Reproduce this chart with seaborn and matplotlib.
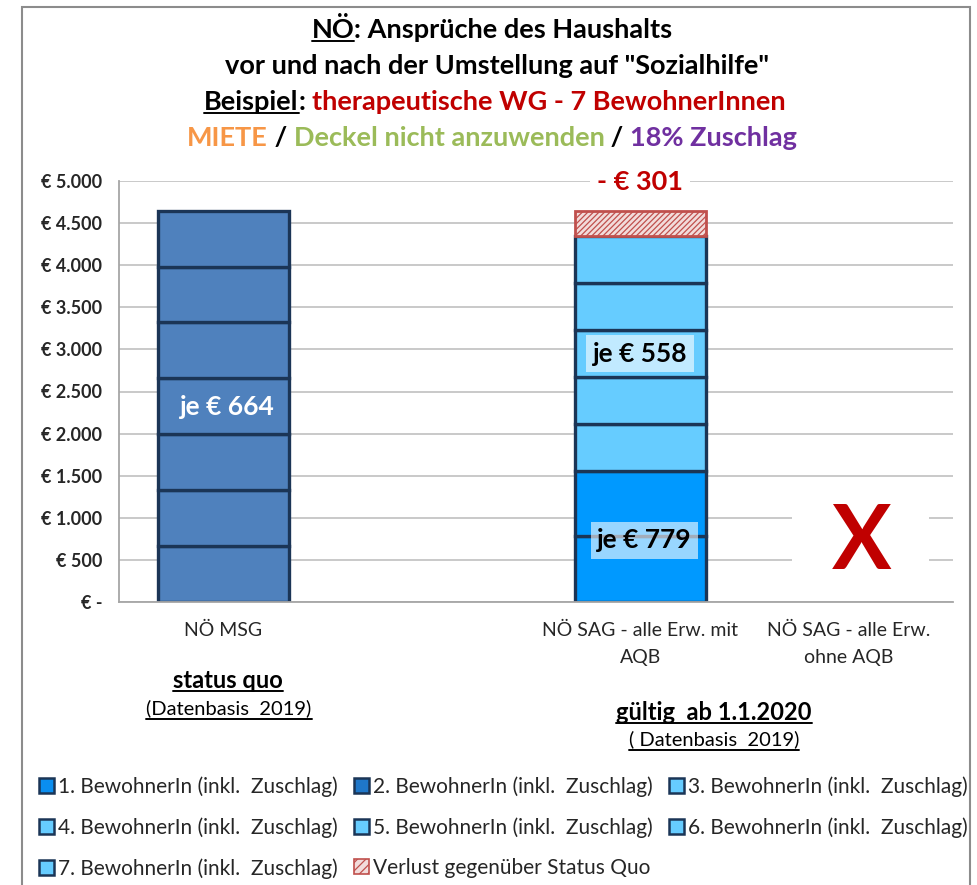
import matplotlib
matplotlib.use("Agg")
import matplotlib.pyplot as plt
import seaborn as sns
from matplotlib.patches import Patch, Rectangle
from matplotlib.lines import Line2D

# Kategorien (zweiter Platz bleibt leer)
categories = ["NÖ MSG", " ", "NÖ SAG - alle Erw. mit\nAQB", "NÖ SAG - alle Erw.\nohne AQB"]

series_labels = ["1. BewohnerIn (inkl.  Zuschlag)", "2. BewohnerIn (inkl.  Zuschlag)",
                 "3. BewohnerIn (inkl.  Zuschlag)", "4. BewohnerIn (inkl.  Zuschlag)",
                 "5. BewohnerIn (inkl.  Zuschlag)", "6. BewohnerIn (inkl.  Zuschlag)",
                 "7. BewohnerIn (inkl.  Zuschlag)"]
loss_label = "Verlust gegenüber Status Quo"

# Werte je BewohnerIn
msg_values = [664, 664, 664, 664, 664, 664, 664]
sag_values = [779, 779, 558, 558, 558, 558, 558]
loss_value = 301

y_ticks = [0, 500, 1000, 1500, 2000, 2500, 3000, 3500, 4000, 4500, 5000]
y_tick_labels = ["€ -", "€ 500", "€ 1.000", "€ 1.500", "€ 2.000", "€ 2.500",
                 "€ 3.000", "€ 3.500", "€ 4.000", "€ 4.500", "€ 5.000"]

# Farben
msg_color = "#4F81BD"
sag_colors = ["#0099FF", "#0099FF", "#66CCFF", "#66CCFF", "#66CCFF", "#66CCFF", "#66CCFF"]
legend_colors = ["#0A8EF0", "#1F77C9", "#66CCFF", "#66CCFF", "#66CCFF", "#66CCFF", "#66CCFF"]
edge_color = "#1B3556"
loss_face = "#F2DCDB"
loss_edge = "#C0504D"
red = "#C00000"

sns.set_style("white")
plt.rcParams["font.family"] = ["Lato", "DejaVu Sans"]
plt.rcParams["hatch.linewidth"] = 0.9

W, H = 978, 885
fig = plt.figure(figsize=(W / 100, H / 100), dpi=100)
ax = fig.add_axes([119 / W, 1 - 602 / H, (953 - 119) / W, (602 - 181) / H])
ax.set_axisbelow(True)

bar_kw = dict(order=categories, width=0.63, errorbar=None, saturation=1,
              edgecolor=edge_color, linewidth=2.4, ax=ax)

# linke Säule: NÖ MSG
bottom = 0
for v in msg_values:
    sns.barplot(x=[categories[0]], y=[v], bottom=bottom, color=msg_color, **bar_kw)
    bottom += v

# rechte Säule: NÖ SAG mit AQB
bottom = 0
for v, c in zip(sag_values, sag_colors):
    sns.barplot(x=[categories[2]], y=[v], bottom=bottom, color=c, **bar_kw)
    bottom += v
sns.barplot(x=[categories[2]], y=[loss_value], bottom=bottom, order=categories, width=0.63,
            errorbar=None, saturation=1, color=loss_face, edgecolor=loss_edge,
            linewidth=2.0, hatch="//////", ax=ax)

ax.set_xlim(-0.5, 3.5)
ax.set_ylim(0, 5000)
ax.set_yticks(y_ticks)
ax.set_yticklabels(y_tick_labels, fontweight="bold", fontsize=13)
ax.yaxis.grid(True, color="#C9C9C9", linewidth=1.4)
ax.xaxis.grid(False)
ax.set_xlabel("")
ax.set_ylabel("")
ax.set_xticks(range(len(categories)))
ax.set_xticklabels(categories, fontsize=14)
for lbl in ax.get_xticklabels():
    lbl.set_linespacing(1.75)
ax.set_xticks([-0.5, 0.5, 1.5, 2.5, 3.5], minor=True)
ax.tick_params(axis="x", which="major", length=0, pad=14)
ax.tick_params(axis="x", which="minor", length=6, color="#A6A6A6", width=1.2)
ax.tick_params(axis="y", length=5, color="#A6A6A6", width=1.2, pad=7)
for s in ["top", "right"]:
    ax.spines[s].set_visible(False)
for s in ["left", "bottom"]:
    ax.spines[s].set_color("#A6A6A6")
    ax.spines[s].set_linewidth(1.3)

# weiße Fläche hinter dem X (unterbricht die Gitterlinien)
ax.add_patch(Rectangle((2.73, 260), 0.655, 960, facecolor="white", edgecolor="none", zorder=1.5))

# Beschriftungen in den Säulen
ax.text(0.02, 2320, "je € 664", color="white", fontsize=19, fontweight="bold",
        ha="center", va="center", zorder=5)
ax.text(2, 2950, "je € 558", color="black", fontsize=19, fontweight="bold",
        ha="center", va="center", zorder=5,
        bbox=dict(boxstyle="square,pad=0.25", facecolor="white", alpha=0.6, edgecolor="none"))
ax.text(2.02, 735, "je € 779", color="black", fontsize=19, fontweight="bold",
        ha="center", va="center", zorder=5,
        bbox=dict(boxstyle="square,pad=0.25", facecolor="white", alpha=0.6, edgecolor="none"))
ax.text(2, 4985, "- € 301", color=red, fontsize=19.5, fontweight="bold",
        ha="center", va="center", zorder=5,
        bbox=dict(boxstyle="square,pad=0.25", facecolor="white", edgecolor="none"))
ax.text(3.06, 700, "X", color=red, fontsize=64, fontweight="bold", ha="center", va="center",
        zorder=5)

renderer = fig.canvas.get_renderer()


def text_width(s, size, weight):
    t = fig.text(0, 0, s, fontsize=size, fontweight=weight)
    w = t.get_window_extent(renderer).width
    t.remove()
    return w


def rich_line(pieces, x_center, y_base, size, weight="bold", ul_gap=3.0):
    # pieces: (text, color, underline)
    full = "".join(p[0] for p in pieces)
    x0 = x_center - text_width(full, size, weight) / 2
    ref = text_width("|", size, weight)
    prefix = ""
    for txt, col, ul in pieces:
        off = text_width(prefix + "|", size, weight) - ref if prefix else 0
        x = x0 + off
        fig.text(x / W, 1 - y_base / H, txt, color=col, fontsize=size,
                 fontweight=weight, ha="left", va="baseline")
        if ul:
            w = text_width(txt, size, weight)
            yl = 1 - (y_base + ul_gap) / H
            fig.add_artist(Line2D([x / W, (x + w) / W], [yl, yl], color=col,
                                  linewidth=1.4, transform=fig.transFigure))
        prefix += txt


# Titel
rich_line([("NÖ", "black", True), (": Ansprüche des Haushalts", "black", False)], 492, 38, 19.5)
rich_line([('vor und nach der Umstellung auf "Sozialhilfe"', "black", False)], 497, 74, 19.5)
rich_line([("Beispiel", "black", True), (": ", "black", False),
           ("therapeutische WG - 7 BewohnerInnen", red, False)], 495, 110, 19.5)
rich_line([("MIETE", "#F79646", False), (" / ", "black", False),
           ("Deckel nicht anzuwenden", "#9BBB59", False), (" / ", "black", False),
           ("18% Zuschlag", "#7030A0", False)], 492, 146, 19.5)

# Untertitel unter den Kategorien
rich_line([("status quo", "black", True)], 228, 688, 17)
rich_line([("(Datenbasis  2019)", "black", True)], 229, 714, 14.5, weight="normal", ul_gap=5)
rich_line([("gültig  ab 1.1.2020", "black", True)], 714, 720, 17)
rich_line([("( Datenbasis  2019)", "black", True)], 714, 745, 14.5, weight="normal", ul_gap=5)

# Legende (zeilenweise wie im Original)
leg_size = 15
fs_px = leg_size * 100 / 72
handles = [Patch(facecolor=c, edgecolor=edge_color, linewidth=1.8) for c in legend_colors]
handles.append(Patch(facecolor=loss_face, edgecolor=loss_edge, linewidth=1.2, hatch="////"))
labels = series_labels + [loss_label]
order = [0, 3, 6, 1, 4, 7, 2, 5]
hl, tp = 0.7, 0.22
col_gap = (315 - text_width(series_labels[0], leg_size, "normal")) / fs_px - hl - tp
fig.legend([handles[i] for i in order], [labels[i] for i in order], ncol=3,
           loc="upper left", bbox_to_anchor=(39 / W, 1 - 776 / H), frameon=False,
           fontsize=leg_size, handlelength=hl, handleheight=hl, handletextpad=tp,
           columnspacing=col_gap, labelspacing=0.98, borderpad=0, borderaxespad=0)

# Rahmen um die Grafik
fig.add_artist(Rectangle((22 / W, -0.02), (970 - 22) / W, 1 - 7 / H + 0.02,
                         transform=fig.transFigure, fill=False, edgecolor="#8C8C8C",
                         linewidth=1.5))

fig.savefig("out.png", dpi=100)
